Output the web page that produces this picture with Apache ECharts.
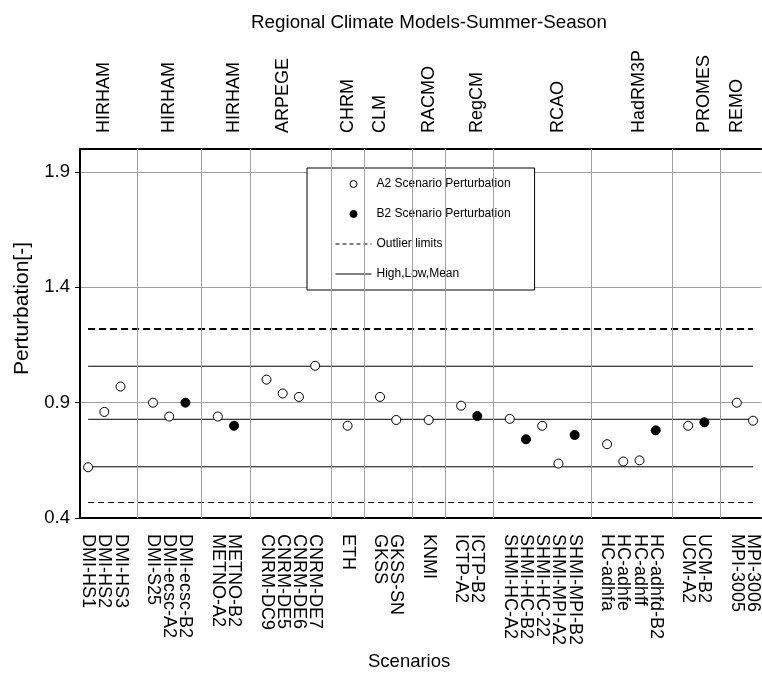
<!DOCTYPE html>
<html><head><meta charset="utf-8">
<script src="https://cdn.jsdelivr.net/npm/echarts@6/dist/echarts.min.js"></script>
<style>html,body{margin:0;padding:0;background:#fff}#c{width:762px;height:684px}</style>
</head><body><div id="c"></div>
<script>
// Category slots along the x axis ('' = empty separator slot between model groups)
const categories = ['DMI-HS1','DMI-HS2','DMI-HS3','',
  'DMI-S25','DMI-ecsc-A2','DMI-ecsc-B2','',
  'METNO-A2','METNO-B2','',
  'CNRM-DC9','CNRM-DE5','CNRM-DE6','CNRM-DE7','',
  'ETH','',
  'GKSS','GKSS-SN','',
  'KNMI','',
  'ICTP-A2','ICTP-B2','',
  'SHMI-HC-A2','SHMI-HC-B2','SHMI-HC-22','SHMI-MPI-A2','SHMI-MPI-B2','',
  'HC-adhfa','HC-adhfe','HC-adhff','HC-adhfd-B2','',
  'UCM-A2','UCM-B2','',
  'MPI-3005','MPI-3006'];
// Model names written above the plot (same slots)
const modelLabels = ['','HIRHAM','','',
  '','HIRHAM','','',
  '','HIRHAM','',
  '','ARPEGE','','','',
  'CHRM','',
  'CLM','','',
  'RACMO','',
  '','RegCM','',
  '','','','RCAO','','',
  '','','HadRM3P','','',
  '','PROMES','',
  'REMO',''];
// A2 scenario perturbations (null where no A2 run)
const a2Values = [0.62,0.86,0.97,null,
  0.90,0.84,null,null,
  0.84,null,null,
  1.00,0.94,0.925,1.06,null,
  0.80,null,
  0.925,0.825,null,
  0.825,null,
  0.887,null,null,
  0.83,null,0.80,0.636,null,null,
  0.72,0.645,0.65,null,null,
  0.80,null,null,
  0.90,0.822];
// B2 scenario perturbations
const b2Values = [null,null,null,null,
  null,null,0.90,null,
  null,0.80,null,
  null,null,null,null,null,
  null,null,
  null,null,null,
  null,null,
  null,0.842,null,
  null,0.741,null,null,0.76,null,
  null,null,null,0.78,null,
  null,0.815,null,
  null,null];
const outlierLimits = [1.22, 0.467];
const highLowMean = [1.058, 0.828, 0.622];
const yTickValues = [0.4, 0.9, 1.4, 1.9];

const FONT = "'Liberation Sans', Arial, sans-serif";
const firstCat = categories[0], lastCat = categories[categories.length - 1];
const separators = categories.map((c, i) => c === '' ? i : -1).filter(i => i >= 0);

const chart = echarts.init(document.getElementById('c'), null, {renderer: 'canvas'});

const series = [
  {
    name: 'sep', type: 'line', data: [], z: 1, silent: true,
    markLine: {
      silent: true, symbol: 'none', label: {show: false},
      lineStyle: {color: '#a0a0a0', width: 1, type: 'solid'},
      emphasis: {disabled: true},
      data: separators.map(i => ({xAxis: i}))
    }
  },
  {
    name: 'Outlier limits', type: 'line', symbol: 'none', z: 3, silent: true,
    itemStyle: {color: '#000'},
    lineStyle: {color: '#000', width: 2, type: [7, 4]},
    data: [[firstCat, outlierLimits[0]], [lastCat, outlierLimits[0]]]
  },
  {
    name: 'Outlier limits', type: 'line', symbol: 'none', z: 3, silent: true,
    itemStyle: {color: '#000'},
    lineStyle: {color: '#000', width: 1, type: [6, 4]},
    data: [[firstCat, outlierLimits[1]], [lastCat, outlierLimits[1]]]
  }
];
highLowMean.forEach(v => series.push({
  name: 'High,Low,Mean', type: 'line', symbol: 'none', z: 3, silent: true,
  itemStyle: {color: '#000'},
  lineStyle: {color: '#000', width: 1, type: 'solid'},
  data: [[firstCat, v], [lastCat, v]]
}));
series.push({
  name: 'A2 Scenario Perturbation', type: 'scatter', z: 5, symbol: 'circle', symbolSize: 9,
  itemStyle: {color: '#fff', borderColor: '#000', borderWidth: 1, opacity: 1},
  data: a2Values
});
series.push({
  name: 'B2 Scenario Perturbation', type: 'scatter', z: 5, symbol: 'circle', symbolSize: 9,
  itemStyle: {color: '#000', borderColor: '#000', borderWidth: 1, opacity: 1},
  data: b2Values
});

chart.setOption({
  animation: false,
  backgroundColor: '#fff',
  textStyle: {fontFamily: FONT, color: '#000'},
  title: {
    text: 'Regional Climate Models-Summer-Season',
    left: 424, top: 8, textAlign: 'center',
    textStyle: {fontFamily: FONT, fontSize: 18.8, fontWeight: 'normal', color: '#000'}
  },
  grid: {left: 80, top: 149, width: 684, height: 369, show: false},
  legend: {
    orient: 'vertical', left: 307, top: 168,
    padding: [10, 24, 10, 28],
    backgroundColor: '#fff', borderColor: '#000', borderWidth: 1,
    itemWidth: 36, itemHeight: 7, itemGap: 18,
    selectedMode: false,
    textStyle: {fontFamily: FONT, fontSize: 12, color: '#000'},
    data: [
      {name: 'A2 Scenario Perturbation', icon: 'circle', itemStyle: {color: '#fff', borderColor: '#000', borderWidth: 1}},
      {name: 'B2 Scenario Perturbation', icon: 'circle', itemStyle: {color: '#000', borderColor: '#000', borderWidth: 1}},
      {name: 'Outlier limits', itemStyle: {opacity: 0}, lineStyle: {color: '#000', width: 1, type: [4, 3], opacity: 1}},
      {name: 'High,Low,Mean', itemStyle: {opacity: 0}, lineStyle: {color: '#000', width: 1, opacity: 1}}
    ]
  },
  xAxis: [
    {
      type: 'category', position: 'bottom', data: categories, boundaryGap: true,
      axisLine: {show: true, lineStyle: {color: '#000', width: 2}},
      axisTick: {show: false},
      splitLine: {show: false},
      axisLabel: {interval: 0, rotate: -90, margin: 16, fontFamily: FONT, fontSize: 18, color: '#000'}
    },
    {
      type: 'category', position: 'top', data: modelLabels, boundaryGap: true,
      axisLine: {show: true, lineStyle: {color: '#000', width: 2}},
      axisTick: {show: false},
      splitLine: {show: false},
      axisLabel: {interval: 0, rotate: -90, margin: 16, fontFamily: FONT, fontSize: 18, color: '#000'}
    }
  ],
  yAxis: {
    type: 'value', min: 0.4, max: 2.0,
    axisLine: {show: true, lineStyle: {color: '#000', width: 2}},
    axisTick: {show: true, length: 5, customValues: yTickValues, lineStyle: {color: '#000', width: 1}},
    axisLabel: {customValues: yTickValues, margin: 10, fontFamily: FONT, fontSize: 18.5, color: '#000',
      formatter: v => v.toFixed(1)},
    splitLine: {show: true, lineStyle: {color: '#a0a0a0', width: 1}}
  },
  graphic: [
    {type: 'text', left: 12, top: 242, rotation: Math.PI / 2, z: 10,
      style: {text: 'Perturbation[-]', font: "21px 'Liberation Sans', Arial, sans-serif", fill: '#000'}},
    {type: 'text', left: 368, top: 652, z: 10,
      style: {text: 'Scenarios', font: "18.5px 'Liberation Sans', Arial, sans-serif", fill: '#000'}}
  ],
  series: series
});
</script>
</body></html>
